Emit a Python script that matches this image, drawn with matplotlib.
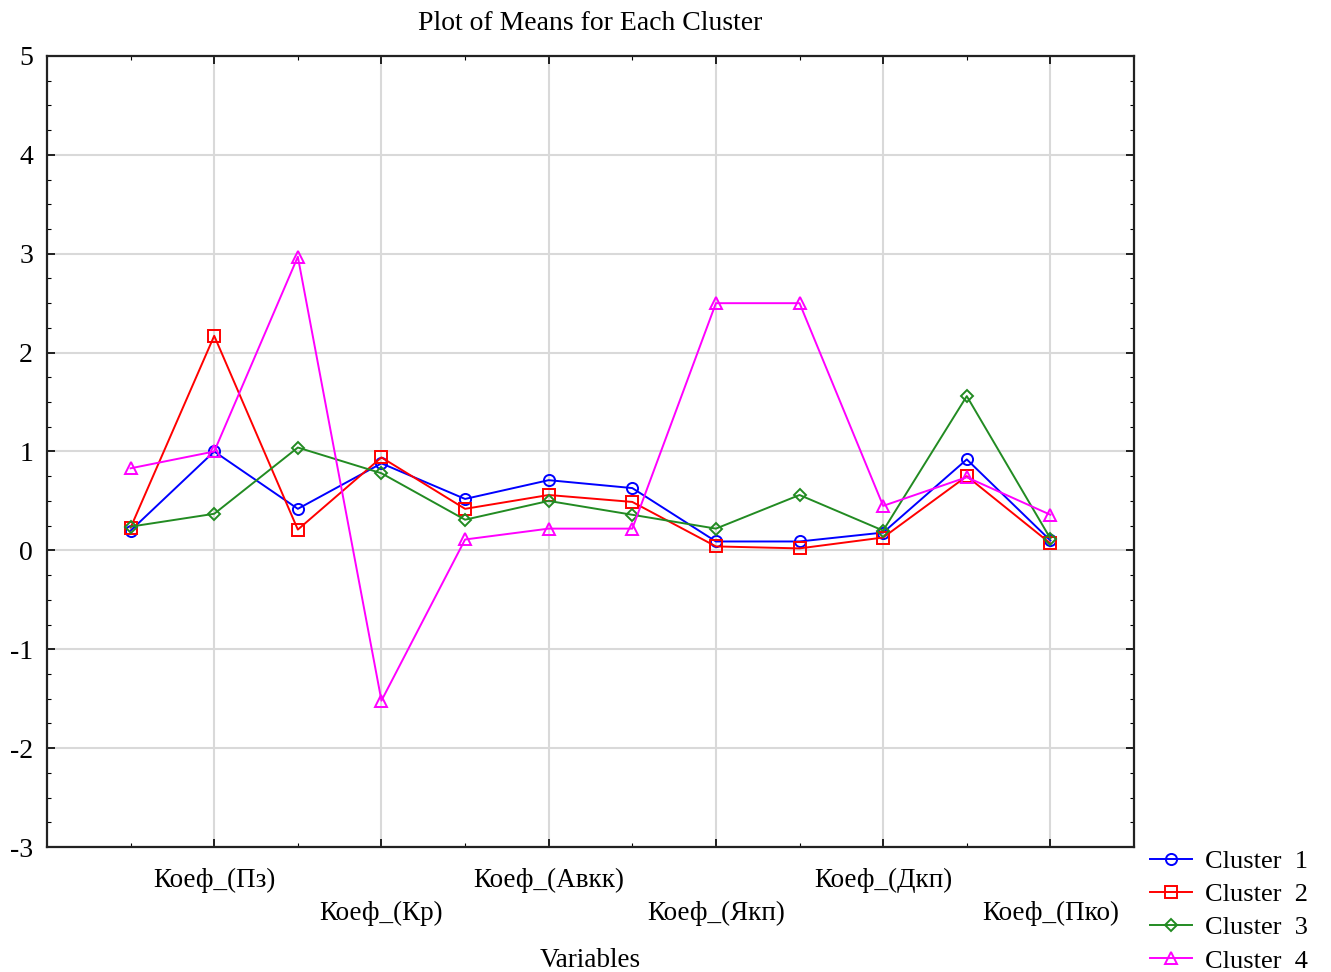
import matplotlib.pyplot as plt
from matplotlib.ticker import FixedLocator, MultipleLocator

plt.rcParams['font.family'] = ['Liberation Serif', 'DejaVu Serif']
plt.rcParams['axes.unicode_minus'] = False

# =========================
# DATA
# =========================
variaveis = list(range(12))
rotulos = ["Коеф_(Пз)", "Коеф_(Кр)", "Коеф_(Авкк)",
           "Коеф_(Якп)", "Коеф_(Дкп)", "Коеф_(Пко)"]
posicoes_rotulos = [1, 3, 5, 7, 9, 11]

cluster1 = [0.20, 1.00, 0.42, 0.88, 0.52, 0.71, 0.63, 0.09, 0.09, 0.18, 0.92, 0.10]
cluster2 = [0.23, 2.17, 0.21, 0.94, 0.42, 0.56, 0.49, 0.04, 0.02, 0.13, 0.75, 0.07]
cluster3 = [0.24, 0.37, 1.04, 0.78, 0.31, 0.50, 0.36, 0.22, 0.56, 0.20, 1.56, 0.12]
cluster4 = [0.83, 1.00, 2.97, -1.52, 0.11, 0.22, 0.22, 2.50, 2.50, 0.45, 0.74, 0.36]

series = [
    ("Cluster  1", cluster1, "#0000ff", "o"),
    ("Cluster  2", cluster2, "#ff0000", "s"),
    ("Cluster  3", cluster3, "#228b22", "D"),
    ("Cluster  4", cluster4, "#ff00ff", "^"),
]

# =========================
# FIGURE
# =========================
fig = plt.figure(figsize=(13.31, 9.72), dpi=100)
ax = fig.add_axes([0.0353, 0.1286, 0.8167, 0.8138])

for nome, valores, cor, marcador in series:
    ms = 6.5 if marcador == "D" else 8
    ax.plot(variaveis, valores, color=cor, marker=marcador, markersize=ms,
            markerfacecolor="none", markeredgecolor=cor, markeredgewidth=1.4,
            linewidth=1.4, label=nome)

ax.set_xlim(-1, 12)
ax.set_ylim(-3, 5)

# x ticks: labeled every other variable, alternating rows
ax.xaxis.set_major_locator(FixedLocator(posicoes_rotulos))
ax.xaxis.set_minor_locator(FixedLocator([0, 2, 4, 6, 8, 10]))
ax.set_xticklabels([r if i % 2 == 0 else "\n" + r for i, r in enumerate(rotulos)],
                   fontsize=19.5, linespacing=1.4)
ax.yaxis.set_major_locator(MultipleLocator(1))
ax.yaxis.set_minor_locator(MultipleLocator(0.25))
ax.tick_params(axis="y", labelsize=20, pad=10)

ax.tick_params(which="both", direction="in", top=True, right=True)
ax.tick_params(which="major", length=6, width=1.2)
ax.tick_params(which="minor", length=3, width=0.8)
ax.tick_params(axis="x", pad=15)

ax.grid(True, which="major", color="#d9d9d9", linewidth=1.5)
ax.set_axisbelow(True)
for sp in ax.spines.values():
    sp.set_linewidth(1.6)
    sp.set_color("#222222")

ax.set_title("Plot of Means for Each Cluster", fontsize=20, pad=19)
ax.set_xlabel("Variables", fontsize=19.5, labelpad=16)

fig.legend(loc="lower left", bbox_to_anchor=(0.846, -0.025), frameon=False,
           fontsize=19, handlelength=1.6, handletextpad=0.5, labelspacing=0.37)

fig.savefig("out.png", dpi=100)
